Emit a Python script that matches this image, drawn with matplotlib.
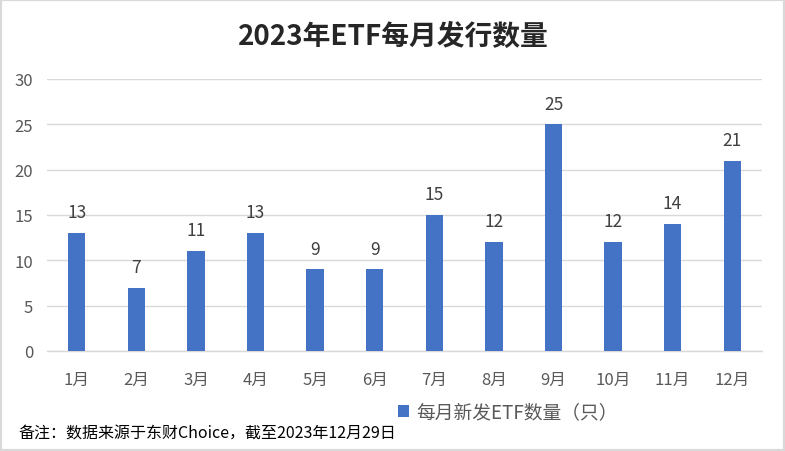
import matplotlib
matplotlib.use("Agg")
import matplotlib.pyplot as plt
from matplotlib.patches import Rectangle

plt.rcParams['font.family'] = ['Noto Sans CJK SC', 'DejaVu Sans']

months = ["1月", "2月", "3月", "4月", "5月", "6月", "7月", "8月", "9月", "10月", "11月", "12月"]
counts = [13, 7, 11, 13, 9, 9, 15, 12, 25, 12, 14, 21]
yticks = [0, 5, 10, 15, 20, 25, 30]
title = "2023年ETF每月发行数量"
legend_label = "每月新发ETF数量（只）"
note = "备注：数据来源于东财Choice，截至2023年12月29日"

fig = plt.figure(figsize=(7.85, 4.52), dpi=100)
ax = fig.add_axes([47/785, 1-352/452, 715/785, 272/452])

x = list(range(len(months)))
bars = ax.bar(x, counts, width=0.29, color="#4472C4", zorder=3, label=legend_label)
for xi, v in zip(x, counts):
    ax.text(xi, v + 1.3, str(v), ha="center", va="bottom", fontsize=12.5, color="#404040")

ax.set_xlim(-0.5, len(months) - 0.5)
ax.set_ylim(0, 30)
ax.set_yticks(yticks)
ax.set_xticks(x)
ax.set_xticklabels(months)
ax.tick_params(axis="both", length=0, labelsize=12, colors="#595959")
ax.tick_params(axis="y", pad=10)
ax.tick_params(axis="x", pad=14)
ax.yaxis.grid(True, color="#d9d9d9", linewidth=1, zorder=0)
for s in ["top", "right", "left"]:
    ax.spines[s].set_visible(False)
ax.spines["bottom"].set_color("#d9d9d9")
ax.spines["bottom"].set_linewidth(1)

fig.text(393/785, 1-37/452, title, ha="center", va="center", fontsize=20, fontweight="bold", color="#262626")

fig.legend(handles=[bars], labels=[legend_label], loc="center", bbox_to_anchor=(508/785, 1-413/452),
           frameon=False, fontsize=13.5, labelcolor="#595959", handlelength=0.55, handleheight=0.55,
           handletextpad=0.4)

fig.text(18/785, 1-434/452, note, ha="left", va="center", fontsize=11.5, color="#000000")

fig.patches.append(Rectangle((0, 0), 1, 1, transform=fig.transFigure, fill=False,
                             edgecolor="#d9d9d9", linewidth=3))

fig.savefig("out.png", dpi=100)
